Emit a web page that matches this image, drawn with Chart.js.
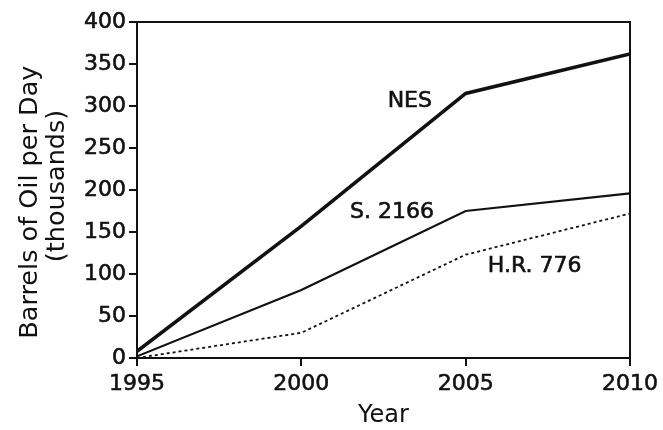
<!DOCTYPE html>
<html>
<head>
<meta charset="utf-8">
<script src="https://cdn.jsdelivr.net/npm/chart.js@4/dist/chart.umd.min.js"></script>
<style>
  html, body { margin: 0; padding: 0; background: #fff; }
  #wrap { width: 663px; height: 430px; }
</style>
</head>
<body>
<div id="wrap"><canvas id="c" width="663" height="430"></canvas></div>
<script>
const years = [1995, 2000, 2005, 2010];
const nesValues = [8, 157, 315, 362];
const s2166Values = [2, 81, 175, 196];
const hr776Values = [0, 30, 123, 172];
const seriesNames = ['NES', 'S. 2166', 'H.R. 776'];
const yTicks = [0, 50, 100, 150, 200, 250, 300, 350, 400];
const xTicks = [1995, 2000, 2005, 2010];

const FONT = 'DejaVu Sans';
const INK = '#111';

function toPoints(vals) { return years.map((y, i) => ({ x: y, y: vals[i] })); }

// text labels anchored in data space
const seriesLabels = [
  { text: seriesNames[0], x: 2003.3, y: 306 },
  { text: seriesNames[1], x: 2002.76, y: 174 },
  { text: seriesNames[2], x: 2007.1, y: 109 }
];

const framePlugin = {
  id: 'frame',
  afterDraw(chart) {
    const { ctx, chartArea: a, scales } = chart;
    ctx.save();
    ctx.strokeStyle = INK;
    ctx.lineWidth = 2;
    ctx.strokeRect(a.left, a.top, a.right - a.left, a.bottom - a.top);
    ctx.fillStyle = INK;
    ctx.font = '22px "' + FONT + '"';
    ctx.textAlign = 'center';
    ctx.textBaseline = 'middle';
    ctx.lineWidth = 0.6;
    seriesLabels.forEach(l => {
      const px = scales.x.getPixelForValue(l.x), py = scales.y.getPixelForValue(l.y);
      ctx.fillText(l.text, px, py);
      ctx.strokeText(l.text, px, py);
    });
    ctx.restore();
  }
};

new Chart(document.getElementById('c'), {
  type: 'line',
  data: {
    datasets: [
      { label: seriesNames[0], data: toPoints(nesValues), borderColor: INK, borderWidth: 3.6, pointRadius: 0, tension: 0 },
      { label: seriesNames[1], data: toPoints(s2166Values), borderColor: INK, borderWidth: 2.2, pointRadius: 0, tension: 0 },
      { label: seriesNames[2], data: toPoints(hr776Values), borderColor: INK, borderWidth: 1.8, borderDash: [3, 3], pointRadius: 0, tension: 0 }
    ]
  },
  options: {
    responsive: false,
    animation: false,
    layout: { padding: { top: 22, right: 33, left: 0, bottom: 0 } },
    plugins: { legend: { display: false }, tooltip: { enabled: false } },
    scales: {
      x: {
        type: 'linear', min: 1995, max: 2010,
        afterBuildTicks: s => { s.ticks = xTicks.map(v => ({ value: v })); },
        afterFit: s => { s.height = 72; },
        grid: { display: true, drawOnChartArea: false, drawTicks: true, tickLength: 8, color: INK, lineWidth: 2 },
        border: { display: true, color: INK, width: 2 },
        ticks: { color: INK, font: { family: FONT, size: 22 }, padding: 5, maxRotation: 0, autoSkip: false,
                 textStrokeColor: INK, textStrokeWidth: 0.6, callback: v => String(v) },
        title: { display: true, text: 'Year', color: INK, font: { family: FONT, size: 24, lineHeight: 1.2 }, padding: { top: 0, bottom: 0 } }
      },
      y: {
        type: 'linear', min: 0, max: 400,
        afterBuildTicks: s => { s.ticks = yTicks.map(v => ({ value: v })); },
        afterFit: s => { s.width = 137; },
        grid: { display: true, drawOnChartArea: false, drawTicks: true, tickLength: 8, color: INK, lineWidth: 2 },
        border: { display: true, color: INK, width: 2 },
        ticks: { color: INK, font: { family: FONT, size: 22 }, padding: 3,
                 textStrokeColor: INK, textStrokeWidth: 0.6, callback: v => String(v) },
        title: { display: true, text: ['Barrels of Oil per Day   ', ' (thousands)'], color: INK, font: { family: FONT, size: 25.5, lineHeight: 1.06 }, padding: { top: 17, bottom: 0 } }
      }
    }
  },
  plugins: [framePlugin]
});
</script>
</body>
</html>
